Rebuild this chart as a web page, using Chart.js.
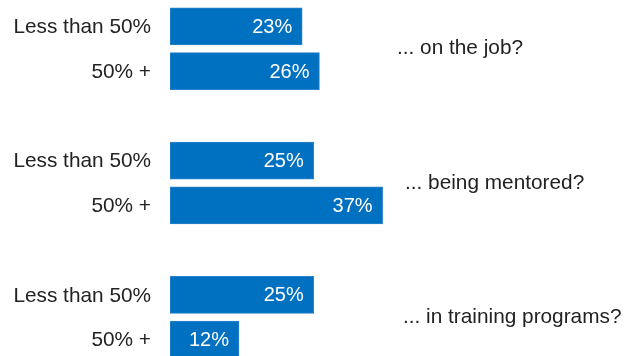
<!DOCTYPE html>
<html>
<head>
<meta charset="utf-8">
<script src="https://cdn.jsdelivr.net/npm/chart.js@4"></script>
<style>
  html, body { margin: 0; padding: 0; background: #fff; overflow: hidden; }
  #wrap { width: 624px; height: 362px; }
</style>
</head>
<body>
<div id="wrap"><canvas id="chart"></canvas></div>
<script>
// one row per bar, empty rows separate the three questions
const rowLabels = ["Less than 50%", "50% +", "", "Less than 50%", "50% +", "", "Less than 50%", "50% +"];
const shares = [23, 26, null, 25, 37, null, 25, 12];
const questions = ["... on the job?", "... being mentored?", "... in training programs?"];
const questionX = [397, 405, 403];

const barColor = "#0070c0";
const textColor = "#222";
const font = "Liberation Sans, Arial, sans-serif";

// row labels on the left, value inside the end of each bar, question beside each pair
const labelPlugin = {
  id: "labels",
  afterDatasetsDraw(chart) {
    const ctx = chart.ctx;
    const y = chart.scales.y;
    const meta = chart.getDatasetMeta(0);
    ctx.save();
    ctx.textBaseline = "middle";

    ctx.font = "20.8px " + font;
    ctx.fillStyle = textColor;
    ctx.textAlign = "right";
    rowLabels.forEach((lab, i) => {
      if (lab) ctx.fillText(lab, chart.chartArea.left - 19, y.getPixelForValue(i) + 1);
    });

    ctx.font = "20px " + font;
    ctx.fillStyle = "#fff";
    meta.data.forEach((bar, i) => {
      if (shares[i] == null) return;
      ctx.fillText(shares[i] + "%", bar.x - 10, bar.y + 1);
    });

    ctx.font = "20.8px " + font;
    ctx.fillStyle = textColor;
    ctx.textAlign = "left";
    questions.forEach((q, g) => {
      const mid = (y.getPixelForValue(g * 3) + y.getPixelForValue(g * 3 + 1)) / 2;
      ctx.fillText(q, questionX[g], mid);
    });
    ctx.restore();
  }
};

new Chart(document.getElementById("chart"), {
  type: "bar",
  data: {
    labels: rowLabels,
    datasets: [{
      data: shares,
      backgroundColor: barColor,
      borderColor: "#2a84cc",
      borderWidth: 1,
      borderSkipped: false,
      barThickness: 37
    }]
  },
  options: {
    indexAxis: "y",
    responsive: true,
    maintainAspectRatio: false,
    animation: false,
    layout: { padding: { top: 4, bottom: 0, left: 170, right: 0 } },
    plugins: {
      legend: { display: false },
      tooltip: { enabled: false }
    },
    scales: {
      x: { display: false, min: 0, max: 79 },
      y: { display: false }
    }
  },
  plugins: [labelPlugin]
});
</script>
</body>
</html>
